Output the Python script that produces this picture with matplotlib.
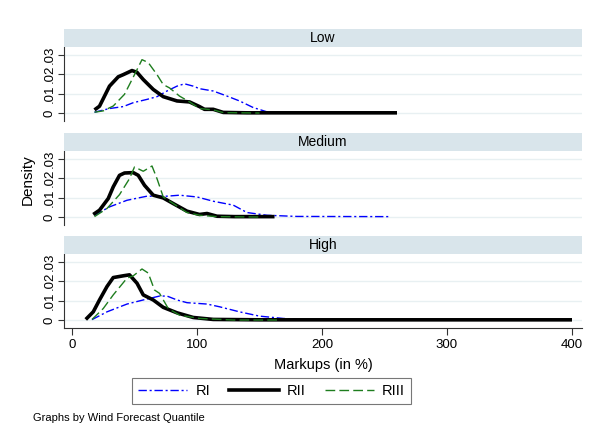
import matplotlib
matplotlib.use("Agg")
import matplotlib.pyplot as plt
from matplotlib.lines import Line2D

plt.rcParams['font.family'] = ['Liberation Sans', 'DejaVu Sans']

panels = ["Low", "Medium", "High"]
series_names = ["RI", "RII", "RIII"]

# ---- Low ----
low_RI_x = [18, 30, 41, 49, 60, 68, 76, 84, 90, 97, 102, 113, 124, 134, 145, 156, 160]
low_RI_y = [0.0005, 0.0024, 0.0034, 0.0054, 0.0071, 0.0085, 0.0114, 0.0139, 0.0151, 0.0139, 0.0126, 0.0114, 0.0088, 0.0063, 0.0029, 0.0007, 0.0003]
low_RII_x = [18, 22, 30, 37, 41, 48, 52, 57, 65, 73, 84, 94, 102, 106, 113, 121, 140, 200, 260]
low_RII_y = [0.0017, 0.0036, 0.0139, 0.0187, 0.0198, 0.0219, 0.021, 0.0173, 0.0122, 0.0085, 0.0063, 0.0058, 0.0034, 0.002, 0.002, 0.0004, 0.0002, 0.0002, 0.0002]
low_RIII_x = [18, 25, 33, 42, 50, 56, 61, 68, 73, 78, 86, 94, 102, 113, 121, 150]
low_RIII_y = [0.0005, 0.0012, 0.0037, 0.0097, 0.0198, 0.0275, 0.026, 0.0198, 0.0147, 0.013, 0.0088, 0.0058, 0.0024, 0.0017, 0.0003, 0.0001]

# ---- Medium ----
med_RI_x = [18, 30, 44, 60, 76, 86, 100, 113, 129, 140, 156, 180, 255]
med_RI_y = [0.001, 0.0053, 0.0087, 0.0108, 0.0108, 0.0113, 0.0104, 0.0082, 0.0062, 0.0024, 0.001, 0.0004, 0.0003]
med_RII_x = [17, 22, 29, 33, 38, 42, 49, 53, 58, 65, 73, 81, 92, 102, 108, 116, 130, 162]
med_RII_y = [0.0014, 0.0036, 0.0096, 0.0156, 0.0215, 0.0227, 0.0229, 0.0215, 0.0164, 0.0113, 0.0099, 0.007, 0.0031, 0.0014, 0.0019, 0.0005, 0.0003, 0.0003]
med_RIII_x = [18, 28, 38, 46, 50, 57, 64, 68, 73, 81, 92, 102, 116, 150]
med_RIII_y = [0.0003, 0.0045, 0.0116, 0.0198, 0.0258, 0.0236, 0.0263, 0.0198, 0.0104, 0.007, 0.0024, 0.001, 0.0003, 0.0001]

# ---- High ----
high_RI_x = [16, 28, 44, 57, 70, 76, 84, 92, 108, 118, 134, 150, 169, 180]
high_RI_y = [0.0003, 0.0043, 0.0083, 0.0104, 0.0124, 0.0124, 0.0104, 0.009, 0.0083, 0.0069, 0.0043, 0.0021, 0.0009, 0.0005]
high_RII_x = [11, 17, 22, 28, 33, 41, 46, 52, 57, 65, 73, 84, 97, 113, 150, 250, 400]
high_RII_y = [0.0004, 0.0043, 0.0104, 0.0173, 0.0219, 0.0228, 0.0233, 0.019, 0.013, 0.0104, 0.0066, 0.0038, 0.0014, 0.0004, 0.0002, 0.0002, 0.0002]
high_RIII_x = [16, 25, 33, 44, 49, 56, 61, 66, 70, 77, 86, 102, 129, 166]
high_RIII_y = [0.0004, 0.006, 0.013, 0.0216, 0.0228, 0.0263, 0.0242, 0.0155, 0.0138, 0.006, 0.0026, 0.0009, 0.0001, 0.0001]

data = {
    "Low": [(low_RI_x, low_RI_y), (low_RII_x, low_RII_y), (low_RIII_x, low_RIII_y)],
    "Medium": [(med_RI_x, med_RI_y), (med_RII_x, med_RII_y), (med_RIII_x, med_RIII_y)],
    "High": [(high_RI_x, high_RI_y), (high_RII_x, high_RII_y), (high_RIII_x, high_RIII_y)],
}

xticks = [0, 100, 200, 300, 400]
yticks = [0, 0.01, 0.02, 0.03]
ytick_labels = ["0", ".01", ".02", ".03"]

styles = [
    dict(color="#0000ff", lw=1.0, dashes=[6, 2, 1.5, 2]),
    dict(color="black", lw=2.6),
    dict(color="#1e7d1e", lw=1.0, dashes=[7, 3]),
]

W, H = 600, 440
fig = plt.figure(figsize=(6, 4.4), dpi=100)
fig.patch.set_facecolor("white")

left_px, right_px = 64, 582
tops = [47, 151, 254]
ax_h = 74
strip_h = 18
grid_color = "#e8f0f2"
strip_color = "#d9e5eb"

axes = []
for i, name in enumerate(panels):
    top = tops[i]
    ax = fig.add_axes([left_px / W, 1 - (top + ax_h) / H, (right_px - left_px) / W, ax_h / H])
    sax = fig.add_axes([left_px / W, 1 - top / H, (right_px - left_px) / W, strip_h / H])
    sax.set_facecolor(strip_color)
    sax.set_xticks([]); sax.set_yticks([])
    for s in sax.spines.values():
        s.set_visible(False)
    sax.text(0.5, 0.5, name, ha="center", va="center", fontsize=10, transform=sax.transAxes)

    for (xs, ys), st in zip(data[name], styles):
        ax.plot(xs, ys, solid_capstyle="butt", solid_joinstyle="round", **st)
    ax.set_xlim(-6.4, 408)
    ax.set_ylim(-0.004, 0.034)
    ax.set_yticks(yticks)
    ax.set_yticklabels(ytick_labels, rotation=90, va="center", fontsize=9.5)
    ax.yaxis.grid(True, color=grid_color, lw=1.0)
    ax.set_axisbelow(True)
    ax.spines["top"].set_visible(False)
    ax.spines["right"].set_visible(False)
    ax.spines["left"].set_color("#333333")
    ax.tick_params(axis="y", length=4, width=0.8, color="#333333", pad=2)
    if i < 2:
        ax.spines["bottom"].set_visible(False)
        ax.set_xticks([])
    else:
        ax.spines["bottom"].set_color("#333333")
        ax.set_xticks(xticks)
        ax.set_xticklabels([str(t) for t in xticks], fontsize=9.5)
        ax.tick_params(axis="x", length=5, width=0.8, color="#333333", pad=3)
        ax.set_xlabel("Markups (in %)", fontsize=10.5, labelpad=5)
    axes.append(ax)

fig.text(28 / W, 1 - 180 / H, "Density", rotation=90, ha="center", va="center", fontsize=11)

handles = [Line2D([], [], **st) for st in styles]
leg = fig.legend(handles, series_names, loc="center", bbox_to_anchor=(271.5 / W, 1 - 391 / H),
                 ncol=3, frameon=True, fontsize=10.5, handlelength=3.4, columnspacing=1.3,
                 handletextpad=0.55, borderpad=0.4, fancybox=False)
leg.get_frame().set_edgecolor("#555555")
leg.get_frame().set_linewidth(0.8)

fig.text(33 / W, 1 - 418 / H, "Graphs by Wind Forecast Quantile", ha="left", va="center", fontsize=8)

fig.savefig("out.png", dpi=100)
